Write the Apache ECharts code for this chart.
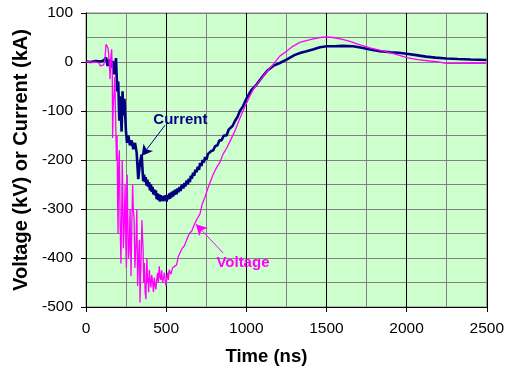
<!DOCTYPE html>
<html>
<head>
<meta charset="utf-8">
<script src="https://cdn.jsdelivr.net/npm/echarts@6/dist/echarts.min.js"></script>
<style>html,body{margin:0;padding:0;background:#fff}#c{width:507px;height:371px}</style>
</head>
<body>
<div id="c"></div>
<script>
var currentT = [0,30,60,90,110,120,125,135,145,156,166,176,187,195,201,208,214,222,228,233,240,249,256,264,274,285,295,306,316,326,337,347,357,362,367,372,378,383,388,394,399,405,410,415,420,425,430,436,441,446,451,457,462,467,472,477,482,488,493,498,503,509,514,519,524,530,535,540,545,550,555,560,565,571,577,583,590,598,607,614,620,628,635,641,648,654,660,668,675,682,690,697,705,712,720,728,735,743,752,760,770,780,794,805,820,832,845,860,877,890,900,915,930,945,960,980,996,1030,1064,1100,1130,1168,1209,1251,1300,1340,1376,1420,1460,1501,1550,1600,1666,1720,1780,1833,1900,1950,2000,2060,2120,2180,2249,2320,2400,2498];
var currentV = [1,0,2,1,3,0,9,-8,5,-11,2,-25,8,-60,-40,-120,-70,-142,-60,-109,-75,-140,-165,-150,-170,-160,-178,-165,-185,-239,-205,-189,-243,-230,-245,-235,-252,-240,-255,-245,-262,-250,-265,-255,-270,-260,-272,-262,-280,-268,-282,-270,-285,-272,-283,-274,-284,-273,-282,-272,-285,-272,-280,-268,-279,-266,-276,-264,-274,-262,-271,-260,-270,-258,-266,-255,-263,-250,-258,-247,-254,-242,-250,-238,-245,-232,-238,-226,-232,-220,-225,-214,-220,-206,-212,-200,-205,-194,-199,-188,-192,-182,-180,-172,-170,-160,-160,-150,-150,-138,-136,-130,-120,-112,-100,-90,-78,-58,-46,-30,-18,-8,-2,5,14,19,22,26,30,32,32,33,32,29,25,22,20,19,17,14,11,9,7,6,5,4];
var voltageT = [0,20,40,60,80,90,100,110,118,125,131,138,145,150,155,160,164,166,170,176,180,185,190,194,197,200,203,208,213,218,221,223,226,229,233,238,244,249,252,254,257,260,265,270,275,281,286,291,295,300,305,312,317,322,328,333,337,340,343,349,353,356,360,364,369,374,377,380,384,387,391,395,400,405,410,416,421,426,431,436,441,446,451,457,462,467,472,478,484,489,494,499,504,509,514,519,530,540,550,565,575,586,600,614,628,645,660,669,690,711,725,742,760,775,794,815,835,855,877,898,930,960,990,1022,1050,1085,1120,1168,1209,1251,1290,1334,1380,1418,1459,1501,1542,1600,1646,1700,1771,1830,1895,1950,2000,2070,2145,2200,2249,2350,2420,2498];
var voltageV = [0,1,-1,0,-2,-8,-12,-6,5,36,39,28,-1,-35,10,26,-20,-155,-90,-60,-30,-120,-200,-150,-283,-350,-220,-180,-330,-411,-340,-300,-200,-256,-380,-340,-250,-383,-420,-300,-230,-310,-400,-380,-300,-437,-330,-250,-300,-320,-420,-370,-300,-457,-400,-363,-491,-440,-410,-323,-360,-380,-450,-410,-470,-484,-430,-400,-450,-440,-470,-424,-445,-460,-435,-450,-470,-440,-455,-464,-445,-430,-450,-417,-440,-445,-425,-450,-440,-430,-445,-457,-440,-430,-445,-424,-433,-420,-417,-414,-398,-390,-380,-375,-363,-350,-345,-337,-322,-310,-290,-276,-258,-245,-229,-215,-205,-188,-176,-162,-140,-115,-92,-70,-52,-38,-22,-5,12,22,32,40,44,47,50,51,50,46,42,36,29,24,19,14,9,5,2,0,-3,-3,-2,-3];
var xTicks = [0,500,1000,1500,2000,2500];
var yTicks = [-500,-400,-300,-200,-100,0,100];

function pairs(t, v){ return t.map(function(x,i){return [x, v[i]];}); }

var FONT = 'Liberation Sans, Arial, sans-serif';
var chart = echarts.init(document.getElementById('c'), null, {renderer:'canvas'});
var option = {
  animation: false,
  backgroundColor: '#ffffff',
  grid: {left:86, right:20, top:13, bottom:60, show:true, backgroundColor:'#ccffcc', borderColor:'#8c7c8c', borderWidth:1},
  xAxis: {
    type:'value', min:xTicks[0], max:xTicks[xTicks.length-1], interval:500,
    name:'Time (ns)', nameLocation:'middle', nameGap:40,
    nameTextStyle:{fontFamily:FONT, fontWeight:'bold', fontSize:18.5, color:'#000', padding:[0,40,0,0]},
    axisLine:{show:true, onZero:false, lineStyle:{color:'#000', width:1}},
    axisTick:{show:true, inside:false, length:5, lineStyle:{color:'#000'}},
    axisLabel:{fontFamily:FONT, fontSize:15.5, color:'#000', margin:14, formatter:function(v){return String(v);}},
    splitLine:{show:true, lineStyle:{color:'#000', width:1}},
    minorTick:{show:false, splitNumber:2},
    minorSplitLine:{show:true, lineStyle:{color:'#808080', width:1}}
  },
  yAxis: {
    type:'value', min:yTicks[0], max:yTicks[yTicks.length-1], interval:100,
    name:'Voltage (kV) or Current (kA)', nameLocation:'middle', nameGap:49,
    nameTextStyle:{fontFamily:FONT, fontWeight:'bold', fontSize:20, color:'#000'},
    axisLine:{show:true, onZero:false, lineStyle:{color:'#000', width:1}},
    axisTick:{show:true, inside:false, length:5, lineStyle:{color:'#000'}},
    axisLabel:{fontFamily:FONT, fontSize:15.5, color:'#000', margin:13, formatter:function(v){return String(v);}},
    splitLine:{show:true, lineStyle:{color:'#808080', width:1}},
    minorTick:{show:false, splitNumber:2},
    minorSplitLine:{show:true, lineStyle:{color:'#808080', width:1}}
  },
  series: [
    {name:'Current', type:'line', data:pairs(currentT, currentV), showSymbol:false, symbol:'none',
     lineStyle:{color:'#000080', width:2.6}, z:3,
     markLine:{silent:true, symbol:['none','arrow'], symbolSize:[9,11], label:{show:false},
       lineStyle:{color:'#000080', width:1, type:'solid'},
       data:[[{coord:[493,-129]},{coord:[347,-192]}]]}},
    {name:'Voltage', type:'line', data:pairs(voltageT, voltageV), showSymbol:false, symbol:'none',
     lineStyle:{color:'#ff00ff', width:1.3}, z:4,
     markLine:{silent:true, symbol:['none','arrow'], symbolSize:[9,11], label:{show:false},
       lineStyle:{color:'#ff00ff', width:1, type:'solid'},
       data:[[{coord:[856,-390]},{coord:[686,-331]}]]}}
  ]
};
chart.setOption(option);
var pC = chart.convertToPixel({gridIndex:0}, [589,-118]);
var pV = chart.convertToPixel({gridIndex:0}, [979,-409]);
chart.setOption({graphic:[
  {type:'text', x:pC[0], y:pC[1], z:10, style:{text:'Current', fill:'#000080', font:'bold 15px '+FONT, textAlign:'center', textVerticalAlign:'middle'}},
  {type:'text', x:pV[0], y:pV[1], z:10, style:{text:'Voltage', fill:'#ff00ff', font:'bold 15px '+FONT, textAlign:'center', textVerticalAlign:'middle'}}
]});
</script>
</body>
</html>
